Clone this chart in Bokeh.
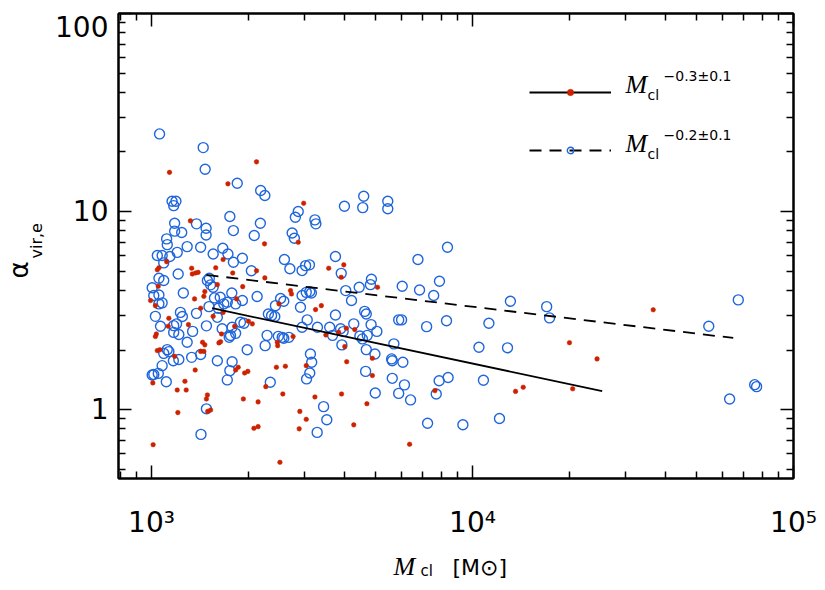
import numpy as np
from math import pi, log10
from bokeh.plotting import figure
from bokeh.models import (FixedTicker, LogAxis, Label, Legend, LegendItem,
                          CustomJSTickFormatter, Range1d)
from bokeh.embed import file_html
from bokeh.resources import INLINE

# ---------------- data (log10 values) ----------------
# open blue circles
log_mass_blue = [
    3.025, 3.161, 3.167, 3.267, 3.340, 3.353, 3.064, 3.076, 3.069, 3.601,
    3.661, 3.658, 3.457, 3.448, 3.244, 3.509, 3.512, 3.072, 3.140, 3.339,
    3.170, 3.170, 3.072, 3.094, 3.255, 3.320, 3.438, 3.445, 3.047, 3.049,
    3.018, 3.033, 3.080, 3.111, 3.153, 3.192, 3.222, 3.238, 3.255, 3.283,
    3.057, 3.038, 3.414, 3.431, 3.469, 3.480, 3.492, 3.573, 3.591, 3.083,
    3.023, 3.038, 3.311, 3.180, 3.174, 3.184, 3.192, 3.002, 3.099, 3.007,
    3.023, 3.250, 3.196, 3.214, 3.225, 3.236, 3.262, 3.283, 3.329, 3.402,
    3.412, 3.386, 3.469, 3.482, 3.493, 3.498, 3.464, 3.023, 3.033, 3.623,
    3.605, 3.647, 3.682, 3.685, 3.012, 3.096, 3.090, 3.140, 3.179, 3.208,
    3.205, 3.364, 3.374, 3.384, 3.573, 3.664, 3.669, 3.028, 3.069, 3.078,
    3.128, 3.171, 3.220, 3.251, 3.277, 3.288, 3.069, 3.085, 3.262, 3.242,
    3.360, 3.395, 3.407, 3.412, 3.428, 3.469, 3.485, 3.517, 3.555, 3.589,
    3.597, 3.630, 3.564, 3.649, 3.672, 3.684, 3.702, 3.111, 3.354, 3.246,
    3.593, 3.657, 3.049, 3.054, 3.038, 3.125, 3.153, 3.298, 3.495, 3.499,
    3.669, 3.696, 3.033, 3.068, 3.085, 3.205, 3.251, 3.244, 3.667, 3.002,
    3.007, 3.021, 3.046, 3.171, 3.154, 3.236, 3.370, 3.493, 3.483, 3.536,
    3.546, 3.516, 3.697, 3.736, 3.736, 3.922, 3.830, 3.781, 3.835, 3.897,
    3.879, 3.770, 3.779, 3.857, 3.919, 4.051, 4.118, 4.231, 4.240, 4.736,
    4.828, 3.755, 4.020, 4.109, 3.748, 3.750, 3.783, 3.750, 3.788, 3.770,
    3.807, 3.896, 3.924, 3.887, 4.034, 3.860, 3.970, 4.084, 4.801, 4.879,
    4.885,
]
log_alpha_blue = [
    1.392, 1.323, 1.214, 1.143, 1.106, 1.081, 1.052, 1.052, 1.030, 1.027,
    1.077, 1.020, 1.000, 0.971, 0.975, 0.958, 0.938, 0.941, 0.938, 0.941,
    0.916, 0.882, 0.901, 0.894, 0.904, 0.879, 0.892, 0.865, 0.862, 0.833,
    0.778, 0.778, 0.794, 0.823, 0.820, 0.786, 0.815, 0.786, 0.744, 0.764,
    0.773, 0.741, 0.758, 0.711, 0.702, 0.727, 0.731, 0.773, 0.688, 0.685,
    0.663, 0.652, 0.701, 0.663, 0.652, 0.630, 0.618, 0.615, 0.589, 0.576,
    0.579, 0.589, 0.564, 0.567, 0.534, 0.542, 0.534, 0.551, 0.571, 0.561,
    0.547, 0.525, 0.576, 0.592, 0.596, 0.589, 0.517, 0.534, 0.539, 0.551,
    0.601, 0.618, 0.631, 0.658, 0.471, 0.470, 0.491, 0.486, 0.520, 0.512,
    0.466, 0.483, 0.475, 0.470, 0.478, 0.496, 0.483, 0.421, 0.424, 0.433,
    0.395, 0.423, 0.408, 0.416, 0.441, 0.436, 0.390, 0.379, 0.385, 0.365,
    0.375, 0.370, 0.365, 0.360, 0.365, 0.416, 0.453, 0.416, 0.416, 0.408,
    0.394, 0.433, 0.375, 0.372, 0.375, 0.429, 0.395, 0.340, 0.323, 0.374,
    0.327, 0.357, 0.303, 0.293, 0.284, 0.264, 0.278, 0.302, 0.281, 0.239,
    0.303, 0.281, 0.222, 0.247, 0.253, 0.247, 0.242, 0.197, 0.193, 0.175,
    0.177, 0.183, 0.141, 0.004, -0.125, 0.150, 0.138, 0.185, 0.155, 0.015,
    -0.051, -0.115, 0.084, 1.052, 1.014, 0.820, 0.758, 0.623, 0.604, 0.648,
    0.576, 0.453, 0.453, 0.419, 0.449, 0.436, 0.547, 0.520, 0.463, 0.421,
    0.554, 0.332, 0.315, 0.312, 0.256, 0.247, 0.239, 0.158, 0.125, 0.082,
    0.049, 0.146, 0.162, 0.079, 0.148, -0.069, -0.076, -0.045, 0.054, 0.126,
    0.116,
]
# filled red dots
log_mass_red = [
    3.056, 3.327, 3.238, 3.474, 3.121, 3.352, 3.457, 3.047, 3.599, 3.591,
    3.552, 3.023, 3.018, 3.125, 3.127, 3.137, 3.145, 3.200, 3.223, 3.253,
    3.327, 3.353, 3.205, 3.284, 3.021, 3.166, 3.163, 3.134, 3.265, 3.433,
    3.436, 3.397, 2.997, 3.012, 3.704, 3.511, 3.529, 3.153, 3.192, 3.223,
    3.054, 3.052, 3.115, 3.218, 3.259, 3.302, 3.314, 3.015, 3.012, 3.441,
    3.543, 3.583, 3.607, 3.633, 3.159, 3.166, 3.210, 3.215, 3.602, 3.392,
    3.393, 3.018, 3.026, 3.153, 3.163, 3.072, 3.608, 3.270, 3.262, 3.300,
    3.290, 3.389, 3.417, 3.482, 3.136, 3.688, 3.688, 3.004, 3.080, 3.108,
    3.104, 3.082, 3.174, 3.171, 3.175, 3.184, 3.005, 3.286, 3.332, 3.319,
    3.332, 3.356, 3.409, 3.400, 3.462, 3.482, 3.460, 3.509, 3.592, 3.630,
    3.671, 3.804, 4.563, 4.302, 4.388, 3.883, 4.134, 4.158, 4.312,
]
log_alpha_red = [
    1.198, 1.251, 1.140, 1.042, 0.953, 0.837, 0.845, 0.747, 0.731, 0.668,
    0.714, 0.716, 0.706, 0.714, 0.685, 0.690, 0.693, 0.716, 0.758, 0.690,
    0.701, 0.665, 0.631, 0.621, 0.623, 0.596, 0.572, 0.559, 0.559, 0.601,
    0.584, 0.534, 0.551, 0.525, 0.618, 0.505, 0.525, 0.512, 0.471, 0.491,
    0.461, 0.421, 0.429, 0.382, 0.421, 0.446, 0.433, 0.382, 0.369, 0.369,
    0.377, 0.390, 0.411, 0.404, 0.340, 0.327, 0.337, 0.343, 0.318, 0.340,
    0.323, 0.298, 0.302, 0.294, 0.294, 0.269, 0.242, 0.214, 0.200, 0.193,
    0.185, 0.214, 0.219, 0.222, 0.200, 0.172, 0.259, 0.135, 0.099, 0.099,
    0.143, -0.015, 0.074, 0.054, -0.009, -0.002, -0.177, 0.054, 0.039, -0.094,
    -0.086, 0.116, 0.079, -0.266, -0.009, -0.049, -0.097, 0.064, 0.079, -0.077,
    0.030, -0.175, 0.504, 0.338, 0.256, 0.096, 0.092, 0.113, 0.105,
]
# power-law fits (end points)
fit_red_mass = [1545, 25350]
fit_red_alpha = [3.25, 1.24]
fit_blue_mass = [1483, 64900]
fit_blue_alpha = [4.79, 2.30]

# axis ticks
x_ticks = [1e3, 1e4, 1e5]
x_tick_labels = ["10\u00b3", "10\u2074", "10\u2075"]
y_ticks = [1, 10, 100]
y_tick_labels = ["1", "10", "\n100"]

legend_exponents = ["\u22120.3\u00b10.1", "\u22120.2\u00b10.1"]

mass_blue = 10 ** np.array(log_mass_blue)
alpha_blue = 10 ** np.array(log_alpha_blue)
mass_red = 10 ** np.array(log_mass_red)
alpha_red = 10 ** np.array(log_alpha_red)

RED = "#cc2200"
BLUE = "#1f66dc"

X_RANGE = (789, 1e5)
Y_RANGE = (0.449, 100)
FRAME = dict(left=118, top=13, width=675, height=465)

x_minor = [m * 10 ** d for d in (2, 3, 4) for m in range(2, 10)]
y_minor = [m * 10 ** d for d in (-1, 0, 1) for m in range(2, 10)]

p = figure(width=825, height=590, x_axis_type="log", y_axis_type="log",
           x_range=Range1d(*X_RANGE), y_range=Range1d(*Y_RANGE),
           output_backend="svg", toolbar_location=None,
           min_border_left=118, min_border_right=32, min_border_top=13,
           min_border_bottom=112, outline_line_color="black",
           outline_line_width=2, background_fill_color="white",
           border_fill_color="white")
p.grid.visible = False

def style_axis(ax):
    ax.axis_line_width = 2
    ax.axis_line_color = "black"
    ax.major_tick_in = 13
    ax.major_tick_out = 0
    ax.minor_tick_in = 7
    ax.minor_tick_out = 0
    ax.major_tick_line_width = 1.5
    ax.minor_tick_line_width = 1.5
    ax.major_tick_line_color = "black"
    ax.minor_tick_line_color = "black"
    ax.major_label_text_font = "DejaVu Sans"
    ax.major_label_text_font_size = "28px"
    ax.major_label_text_color = "black"

p.xaxis.ticker = FixedTicker(ticks=x_ticks, minor_ticks=x_minor)
p.yaxis.ticker = FixedTicker(ticks=y_ticks, minor_ticks=y_minor)
for ax in p.xaxis + p.yaxis:
    style_axis(ax)
p.xaxis.major_label_overrides = dict(zip(x_ticks, x_tick_labels))
p.yaxis.major_label_overrides = dict(zip(y_ticks, y_tick_labels))
p.yaxis.major_label_text_line_height = 0.32
p.xaxis.major_label_standoff = 27
p.yaxis.major_label_standoff = 10

blank = CustomJSTickFormatter(code="return ''")
top_ax = LogAxis(ticker=FixedTicker(ticks=x_ticks, minor_ticks=x_minor), formatter=blank)
right_ax = LogAxis(ticker=FixedTicker(ticks=y_ticks, minor_ticks=y_minor), formatter=blank)
for ax in (top_ax, right_ax):
    style_axis(ax)
    ax.major_label_standoff = 0
    ax.major_label_text_font_size = "1px"
p.add_layout(top_ax, "above")
p.add_layout(right_ax, "right")

# data
r_blue = p.scatter(mass_blue, alpha_blue, marker="circle", size=10,
                   fill_alpha=0, line_color=BLUE, line_width=1.4)
r_red = p.scatter(mass_red, alpha_red, marker="circle", size=4.6,
                  fill_color=RED, line_color=RED, line_width=0.5)
l_red = p.line(fit_red_mass, fit_red_alpha, line_color="black", line_width=1.8)
l_blue = p.line(fit_blue_mass, fit_blue_alpha, line_color="black",
                line_width=1.8, line_dash="12 8")

legend = Legend(items=[LegendItem(label="", renderers=[l_red, r_red]),
                       LegendItem(label="", renderers=[l_blue, r_blue])],
                location=(411, 320), padding=0, margin=0, spacing=42,
                glyph_width=82, glyph_height=16, label_width=0,
                label_height=16, label_standoff=0,
                label_text_font_size="1px", border_line_alpha=0,
                background_fill_alpha=0)
p.add_layout(legend)

# ---- text placement helpers (canvas pixel -> frame / data coordinates) ----
K_MID = 0.345   # distance from box middle to baseline, in em

def sx_to_data(cx):
    lx0, lx1 = log10(X_RANGE[0]), log10(X_RANGE[1])
    return 10 ** (lx0 + (cx - FRAME["left"]) / FRAME["width"] * (lx1 - lx0))

def sy_to_data(cy):
    ly0, ly1 = log10(Y_RANGE[0]), log10(Y_RANGE[1])
    bottom = FRAME["top"] + FRAME["height"]
    return 10 ** (ly0 + (bottom - cy) / FRAME["height"] * (ly1 - ly0))

def text_at(cx, baseline, text, font, size_px, style="normal", place=None,
            rotated=False):
    """cx/baseline: canvas pixels. For rotated text, cx is the baseline x and
    'baseline' is the y where the text starts."""
    if rotated:
        ax_c = cx - K_MID * size_px
        ay_c = baseline
    else:
        ax_c = cx
        ay_c = baseline - K_MID * size_px
    common = dict(text=text, text_font=font, text_font_size=f"{size_px}px",
                  text_font_style=style, text_align="left",
                  text_baseline="middle", angle=pi / 2 if rotated else 0,
                  text_color="black")
    if place is None:
        lbl = Label(x=ax_c - FRAME["left"],
                    y=FRAME["top"] + FRAME["height"] - ay_c,
                    x_units="screen", y_units="screen", **common)
        p.add_layout(lbl)
    else:
        lbl = Label(x=sx_to_data(ax_c), y=sy_to_data(ay_c),
                    x_units="data", y_units="data", **common)
        p.add_layout(lbl, place)

# legend texts (inside the frame)
for i, exp in enumerate(legend_exponents):
    dy = 59 * i
    text_at(625, 93 + dy, "M", "Liberation Serif", 26, "italic")
    text_at(647, 99 + dy, "cl", "DejaVu Sans", 14)
    text_at(663, 80.5 + dy, exp, "DejaVu Sans", 14)

# x axis title (side panels)
text_at(393, 575, "M", "Liberation Serif", 26, "italic", place="right")
text_at(420, 576, "cl", "DejaVu Sans", 15, place="below")
text_at(452, 575, "[M\u2299]", "DejaVu Sans", 22, place="below")

# y axis title (left side panels)
text_at(27, 278, "\u03b1", "DejaVu Sans", 26, place="left", rotated=True)
text_at(42, 258, "vir,e", "DejaVu Sans", 16, place="left", rotated=True)

open("out.html", "w").write(file_html(p, INLINE))
